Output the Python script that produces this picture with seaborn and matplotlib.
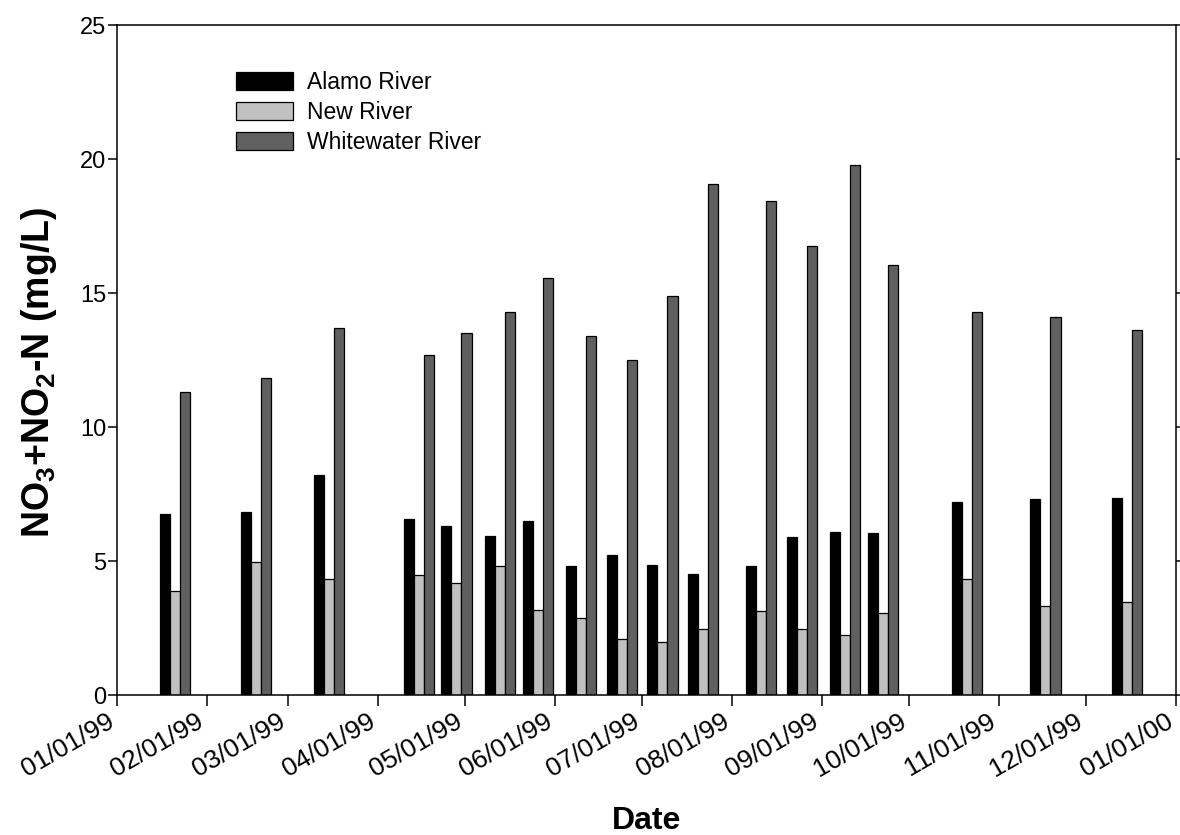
import matplotlib
matplotlib.use("Agg")
import matplotlib.pyplot as plt
import matplotlib.dates as mdates
import matplotlib.transforms as mtransforms
from matplotlib.patches import Patch
import numpy as np
import pandas as pd
import seaborn as sns

# Sampling dates (1999) and NO3+NO2-N concentrations (mg/L)
sample_dates = ["1999-01-21", "1999-02-18", "1999-03-15", "1999-04-15", "1999-04-28",
                "1999-05-13", "1999-05-26", "1999-06-10", "1999-06-24", "1999-07-08",
                "1999-07-22", "1999-08-11", "1999-08-25", "1999-09-09", "1999-09-22",
                "1999-10-21", "1999-11-17", "1999-12-15"]
alamo = [6.74, 6.83, 8.2, 6.57, 6.31, 5.92, 6.48, 4.82, 5.22, 4.85,
         4.5, 4.82, 5.9, 6.1, 6.03, 7.21, 7.3, 7.34]
new_river = [3.88, 4.95, 4.33, 4.49, 4.19, 4.82, 3.18, 2.88, 2.09, 1.99,
             2.47, 3.15, 2.45, 2.24, 3.07, 4.32, 3.31, 3.46]
whitewater = [11.3, 11.83, 13.69, 12.69, 13.5, 14.29, 15.55, 13.4, 12.5, 14.89,
              19.06, 18.44, 16.75, 19.76, 16.03, 14.3, 14.1, 13.62]
rivers = ["Alamo River", "New River", "Whitewater River"]
colors = ["#000000", "#c0c0c0", "#606060"]
month_ticks = pd.date_range("1999-01-01", "2000-01-01", freq="MS")

dnum = mdates.date2num(pd.to_datetime(sample_dates))
df = pd.DataFrame({
    "date": np.tile(dnum, 3),
    "river": np.repeat(rivers, len(dnum)),
    "value": alamo + new_river + whitewater,
})

sns.set_style("ticks")
plt.rcParams["font.family"] = ["Liberation Sans", "DejaVu Sans"]
plt.rcParams["text.color"] = "black"
plt.rcParams["axes.labelcolor"] = "black"
plt.rcParams["xtick.color"] = "black"
plt.rcParams["ytick.color"] = "black"
plt.rcParams["mathtext.fontset"] = "custom"
plt.rcParams["mathtext.rm"] = "Liberation Sans:bold"
plt.rcParams["mathtext.it"] = "Liberation Sans:bold"
plt.rcParams["mathtext.bf"] = "Liberation Sans:bold"

fig = plt.figure(figsize=(11.8, 8.35), dpi=100)
ax = fig.add_axes([117 / 1180, 1 - 695 / 835, (1176 - 117) / 1180, 670 / 835])

sns.barplot(data=df, x="date", y="value", hue="river", hue_order=rivers,
            palette=dict(zip(rivers, colors)), native_scale=True, width=0.8,
            saturation=1, edgecolor="black", linewidth=0.9, errorbar=None,
            legend=False, ax=ax)

ax.set_xlim(mdates.date2num(month_ticks[0]), mdates.date2num(month_ticks[-1]))
ax.set_ylim(0, 25)
ax.set_yticks(np.arange(0, 26, 5))
ax.set_xticks(mdates.date2num(month_ticks))
ax.xaxis.set_major_formatter(mdates.DateFormatter("%m/%d/%y"))

for side in ["left", "right", "top", "bottom"]:
    ax.spines[side].set_visible(True)
    ax.spines[side].set_linewidth(1.1)
    ax.spines[side].set_color("black")
ax.tick_params(axis="y", left=True, right=True, direction="out", length=6.5,
               width=1.1, labelsize=17, pad=1)
ax.tick_params(axis="x", bottom=True, direction="out", length=8, width=1.1,
               labelsize=19, pad=2)

# rotated date labels, nudged so each ends just left of its tick
shift = mtransforms.ScaledTranslation(-11 / 100, 0, fig.dpi_scale_trans)
for lbl in ax.get_xticklabels():
    lbl.set_rotation(30)
    lbl.set_ha("right")
    lbl.set_va("top")
    lbl.set_rotation_mode("anchor")
    lbl.set_transform(lbl.get_transform() + shift)

ax.set_xlabel("Date", fontsize=23, fontweight="bold", labelpad=18)
ax.set_ylabel("NO$_3$+NO$_2$-N (mg/L)", fontsize=27, fontweight="bold")
ax.yaxis.set_label_coords(-0.055, 0.482)

handles = [Patch(facecolor=c, edgecolor="black", linewidth=0.9) for c in colors]
ax.legend(handles, rivers, loc="upper left", bbox_to_anchor=(0.112, 0.932),
          frameon=False, fontsize=16.5, handlelength=2.5, handleheight=0.82,
          handletextpad=0.6, labelspacing=0.32, borderaxespad=0, borderpad=0)

fig.savefig("out.png", dpi=100, facecolor="white")
